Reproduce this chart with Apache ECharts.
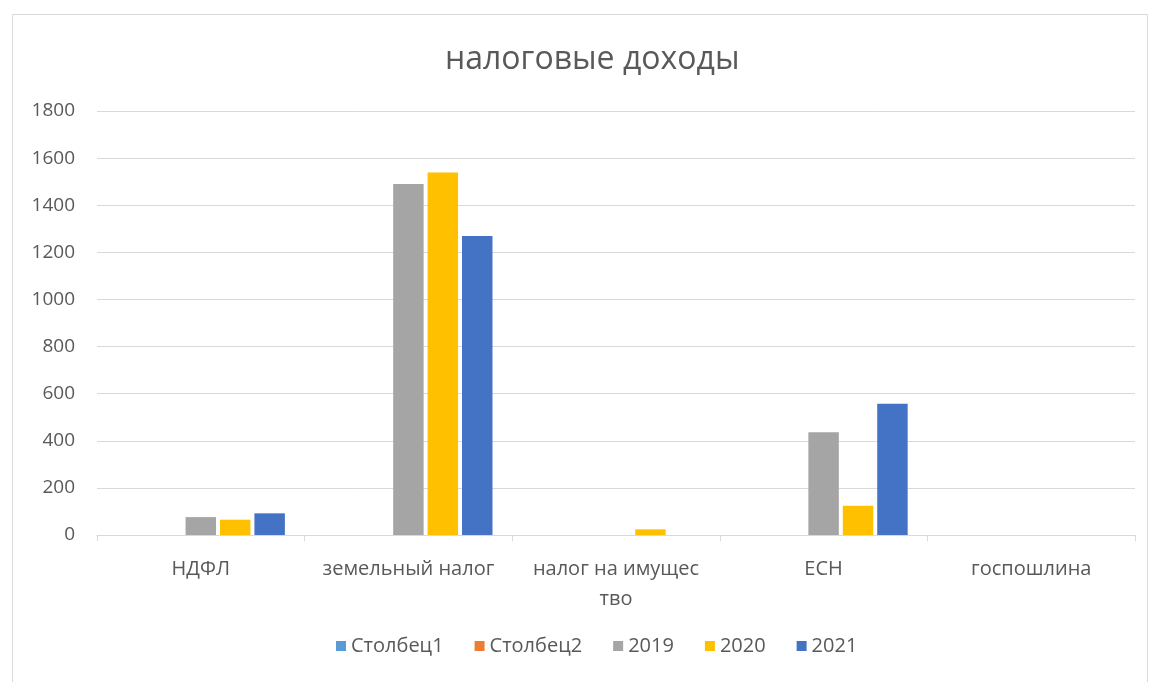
<!DOCTYPE html>
<html><head><meta charset="utf-8">
<script src="https://cdn.jsdelivr.net/npm/echarts@6/dist/echarts.min.js"></script>
<style>html,body{margin:0;padding:0;background:#fff}#c{width:1154px;height:682px}</style>
</head><body><div id="c"></div>
<script>
const categories = ['НДФЛ', 'земельный налог', 'налог на имущество', 'ЕСН', 'госпошлина'];
const seriesNames = ['Столбец1', 'Столбец2', '2019', '2020', '2021'];
const col1 = [null, null, null, null, null];
const col2 = [null, null, null, null, null];
const y2019 = [76, 1490, 0, 436, 0];
const y2020 = [65, 1539, 24, 124, 0];
const y2021 = [92, 1269, 0, 557, 0];
const colors = ['#5B9BD5', '#ED7D31', '#A5A5A5', '#FFC000', '#4472C4'];
const yTicks = { min: 0, max: 1800, interval: 200 };

const font = 'Open Sans, Noto Sans, sans-serif';
const chart = echarts.init(document.getElementById('c'));
const allData = [col1, col2, y2019, y2020, y2021];
chart.setOption({
  animation: false,
  color: colors,
  title: {
    text: 'налоговые доходы', left: 440, top: 39,
    textStyle: { fontFamily: font, fontSize: 32, fontWeight: 'normal', color: '#595959' }
  },
  graphic: [{
    type: 'rect', left: 10, top: 12,
    shape: { width: 1135, height: 680 },
    style: { fill: 'none', stroke: '#d9d9d9', lineWidth: 1 }, silent: true
  }],
  legend: {
    data: seriesNames, bottom: 21, left: 331,
    icon: 'rect', itemWidth: 10, itemHeight: 10, itemGap: 31,
    textStyle: { fontFamily: font, fontSize: 20, color: '#595959' }
  },
  grid: { left: 97, right: 19, top: 111, bottom: 147, containLabel: false },
  xAxis: {
    type: 'category', data: categories,
    axisLine: { lineStyle: { color: '#d9d9d9' } },
    axisTick: { show: true, interval: 0, length: 6, lineStyle: { color: '#d9d9d9' } },
    axisLabel: {
      interval: 0,
      fontFamily: font, fontSize: 20, color: '#595959', margin: 19, lineHeight: 30,
      formatter: v => v === 'налог на имущество' ? 'налог на имущес\nтво' : v
    }
  },
  yAxis: {
    type: 'value', min: yTicks.min, max: yTicks.max, interval: yTicks.interval,
    axisLine: { show: false }, axisTick: { show: false },
    splitLine: { lineStyle: { color: '#d9d9d9' } },
    axisLabel: { fontFamily: font, fontSize: 19, color: '#595959', margin: 22, formatter: v => String(v) }
  },
  series: seriesNames.map((n, i) => ({
    name: n, type: 'bar', data: allData[i],
    barGap: '13%', barCategoryGap: '19%'
  }))
});
</script></body></html>
